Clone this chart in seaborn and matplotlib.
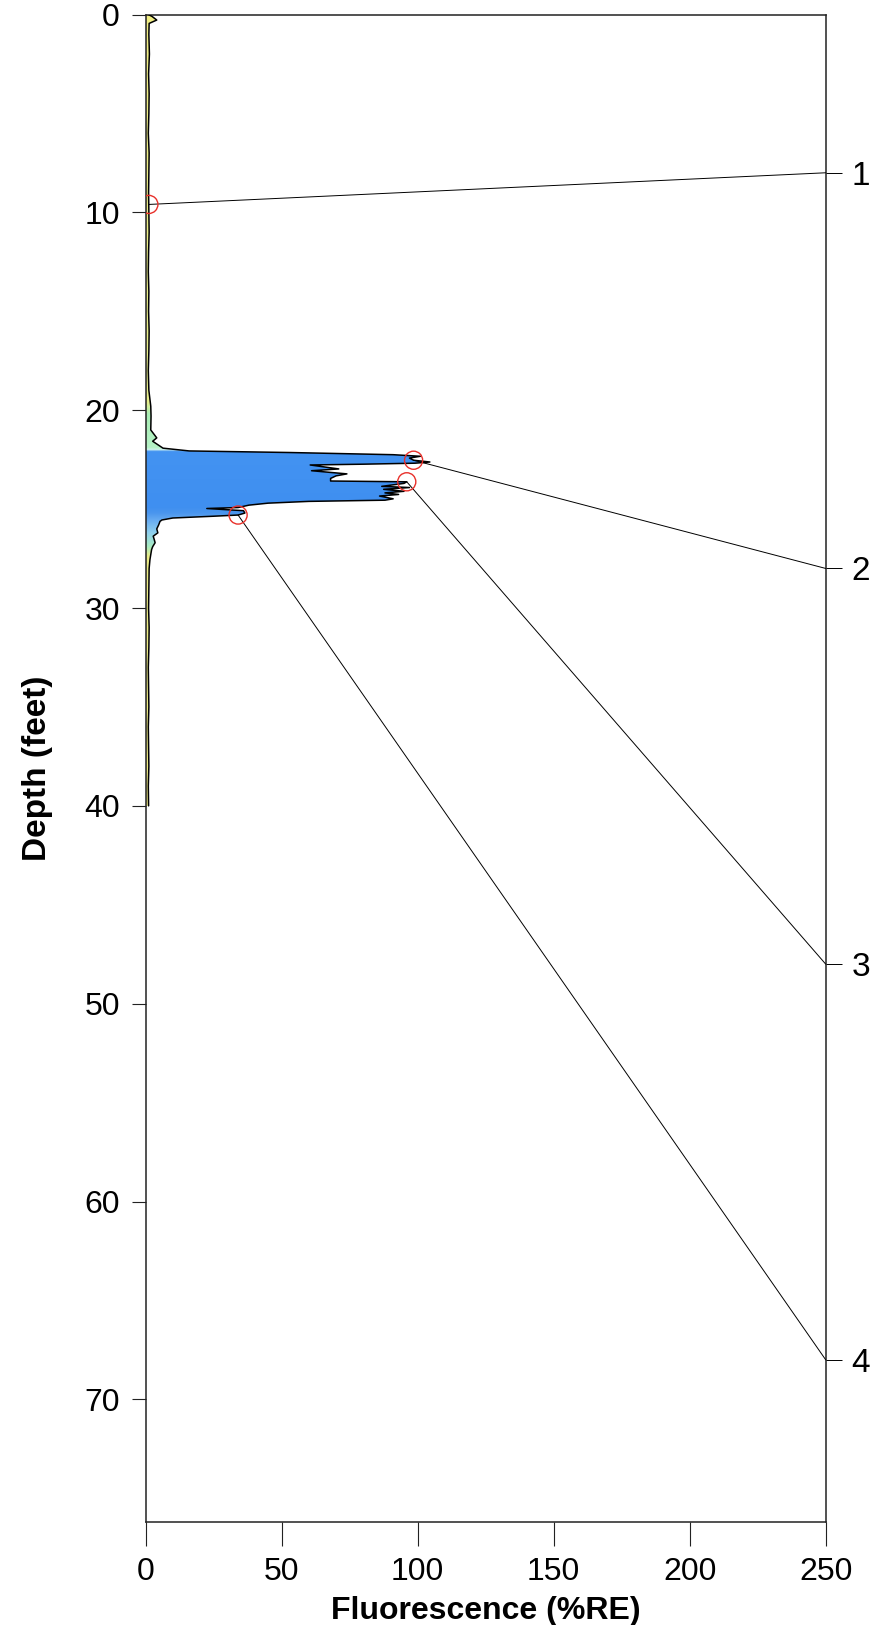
import numpy as np
import matplotlib
matplotlib.use("Agg")
import matplotlib.pyplot as plt
from matplotlib.patches import Polygon
from matplotlib.colors import to_rgb
import seaborn as sns

# Fluorescence log: depth below surface (ft) and response (%RE)
depth_ft = [
    0.00, 0.10, 0.28, 0.45, 1.0, 2.0, 3.0, 4.0, 5.0, 6.0, 7.0, 8.0, 9.0, 10.0,
    11.0, 12.0, 13.0, 14.0, 15.0, 16.0, 17.0, 18.0, 19.0, 19.8, 20.3, 21.0,
    21.40, 21.57, 21.92, 22.06, 22.14, 22.25, 22.33, 22.42, 22.53, 22.62,
    22.68, 22.73, 22.77, 22.97, 23.06, 23.22, 23.32, 23.45, 23.58, 23.62,
    23.70, 23.85, 23.91, 24.00, 24.10, 24.18, 24.26, 24.34, 24.48, 24.55,
    24.61, 24.70, 24.80, 24.92, 24.97, 25.08, 25.20, 25.30, 25.36, 25.45,
    25.55, 25.62, 25.80, 26.00, 26.20, 26.37, 26.55, 26.70, 26.90, 27.05,
    27.30, 27.55, 28.0, 29.0, 30.0, 31.0, 32.0, 33.0, 34.0, 35.0, 36.0,
    37.0, 38.0, 39.0, 40.0,
]
fluor_pct = [
    1.0, 2.4, 4.1, 1.3, 1.2, 1.4, 1.1, 1.3, 1.2, 1.0, 1.3, 1.2, 1.1, 1.2,
    1.3, 1.1, 1.0, 1.2, 1.1, 1.3, 1.2, 1.0, 1.2, 1.9, 2.0, 1.9,
    4.1, 2.6, 6.4, 16.0, 53.0, 91.0, 101.0, 97.0, 98.5, 104.5,
    99.0, 80.0, 60.5, 71.0, 61.0, 74.0, 70.0, 68.0, 68.0, 96.0,
    95.0, 86.8, 97.0, 87.5, 95.0, 88.0, 93.0, 86.0, 91.0, 88.0,
    60.0, 45.0, 38.0, 34.0, 22.5, 36.0, 36.5, 34.0, 25.0, 10.0,
    6.0, 5.3, 4.8, 4.1, 4.5, 2.8, 3.2, 3.5, 2.6, 2.2,
    1.9, 1.6, 1.3, 1.2, 1.1, 1.3, 1.2, 1.0, 1.1, 1.2, 1.0,
    1.1, 1.2, 1.0, 1.1,
]

# Waveform sample points and where their callouts land on the right edge
sample_ids = ["1", "2", "3", "4"]
sample_depth = [9.6, 22.53, 23.62, 25.30]
sample_fluor = [1.2, 98.5, 96.0, 34.0]
callout_depth = [8, 28, 48, 68]

x_ticks = [0, 50, 100, 150, 200, 250]
y_ticks = [0, 10, 20, 30, 40, 50, 60, 70]
x_max = 250
depth_max = 76.2

# Fill colour by depth (waveform class shading)
color_stops = [
    (0.0, "#f2ee84"), (19.6, "#e8f08c"), (20.2, "#a8eeb4"), (21.9, "#b5f2c6"),
    (22.0, "#d8f6f0"), (22.08, "#4393f2"), (24.9, "#3f8ff0"), (25.2, "#4a96ee"),
    (25.6, "#6aaef2"), (26.2, "#8fd0ee"), (26.9, "#a8ecc0"), (27.4, "#ecec86"),
    (40.5, "#f0ec84"),
]

sns.set_theme(style="ticks")
plt.rcParams["font.family"] = ["Liberation Sans", "DejaVu Sans"]
plt.rcParams["text.color"] = "black"
plt.rcParams["axes.labelcolor"] = "black"

fig = plt.figure(figsize=(8.74, 16.25), dpi=100)
ax = fig.add_axes([0.16659, 0.06338, 0.77815, 0.92769])

# Colour gradient clipped to the area under the profile
stop_d = np.array([s[0] for s in color_stops])
stop_c = np.array([to_rgb(s[1]) for s in color_stops])
grid = np.linspace(0, 40.5, 4000)
rgb = np.stack([np.interp(grid, stop_d, stop_c[:, k]) for k in range(3)], axis=1)
img = ax.imshow(rgb[:, None, :], extent=[0, 120, 40.5, 0], aspect="auto",
                interpolation="bilinear", zorder=1)
verts = list(zip(fluor_pct, depth_ft)) + [(0, depth_ft[-1]), (0, depth_ft[0])]
area = Polygon(verts, closed=True, facecolor="none", edgecolor="none",
               transform=ax.transData)
ax.add_patch(area)
img.set_clip_path(area)

# Profile outline
sns.lineplot(x=fluor_pct, y=depth_ft, sort=False, estimator=None, orient="y",
             color="black", linewidth=1.1, ax=ax, zorder=3)

# Callout lines from each sample to its label on the right
for fx, d, cd in zip(sample_fluor, sample_depth, callout_depth):
    ax.plot([fx, x_max], [d, cd], color="black", linewidth=0.7,
            clip_on=False, zorder=4)

sns.scatterplot(x=sample_fluor, y=sample_depth, marker="o", s=170,
                facecolor="none", edgecolor="#e8302a", linewidth=1.0,
                ax=ax, zorder=5)

ax.set_xlim(0, x_max)
ax.set_ylim(depth_max, 0)
ax.set_xticks(x_ticks)
ax.set_yticks(y_ticks)
ax.set_xticklabels([str(v) for v in x_ticks])
ax.set_yticklabels([str(v) for v in y_ticks])
ax.tick_params(axis="x", direction="out", length=17, width=0.8, pad=8,
               labelsize=23, colors="#222222", labelcolor="black")
ax.tick_params(axis="y", direction="out", length=10, width=0.8, pad=8.5,
               labelsize=23, colors="#222222", labelcolor="black")
for sp in ax.spines.values():
    sp.set_visible(True)
    sp.set_color("#222222")
    sp.set_linewidth(1.1)
ax.grid(False)

ax.set_xlabel("Fluorescence (%RE)", fontsize=23, fontweight="bold")
ax.set_ylabel("Depth (feet)", fontsize=24, fontweight="bold")
ax.xaxis.set_label_coords(0.5, -0.049)
ax.yaxis.set_label_coords(-0.136, 0.5)

# Sample numbers along the right edge
ax2 = ax.twinx()
ax2.set_ylim(depth_max, 0)
ax2.set_yticks(callout_depth)
ax2.set_yticklabels(sample_ids)
ax2.tick_params(axis="y", direction="out", length=11.5, width=0.7, pad=7,
                labelsize=24, colors="black")
for sp in ax2.spines.values():
    sp.set_visible(False)
ax2.grid(False)

fig.savefig("out.png", dpi=100)
